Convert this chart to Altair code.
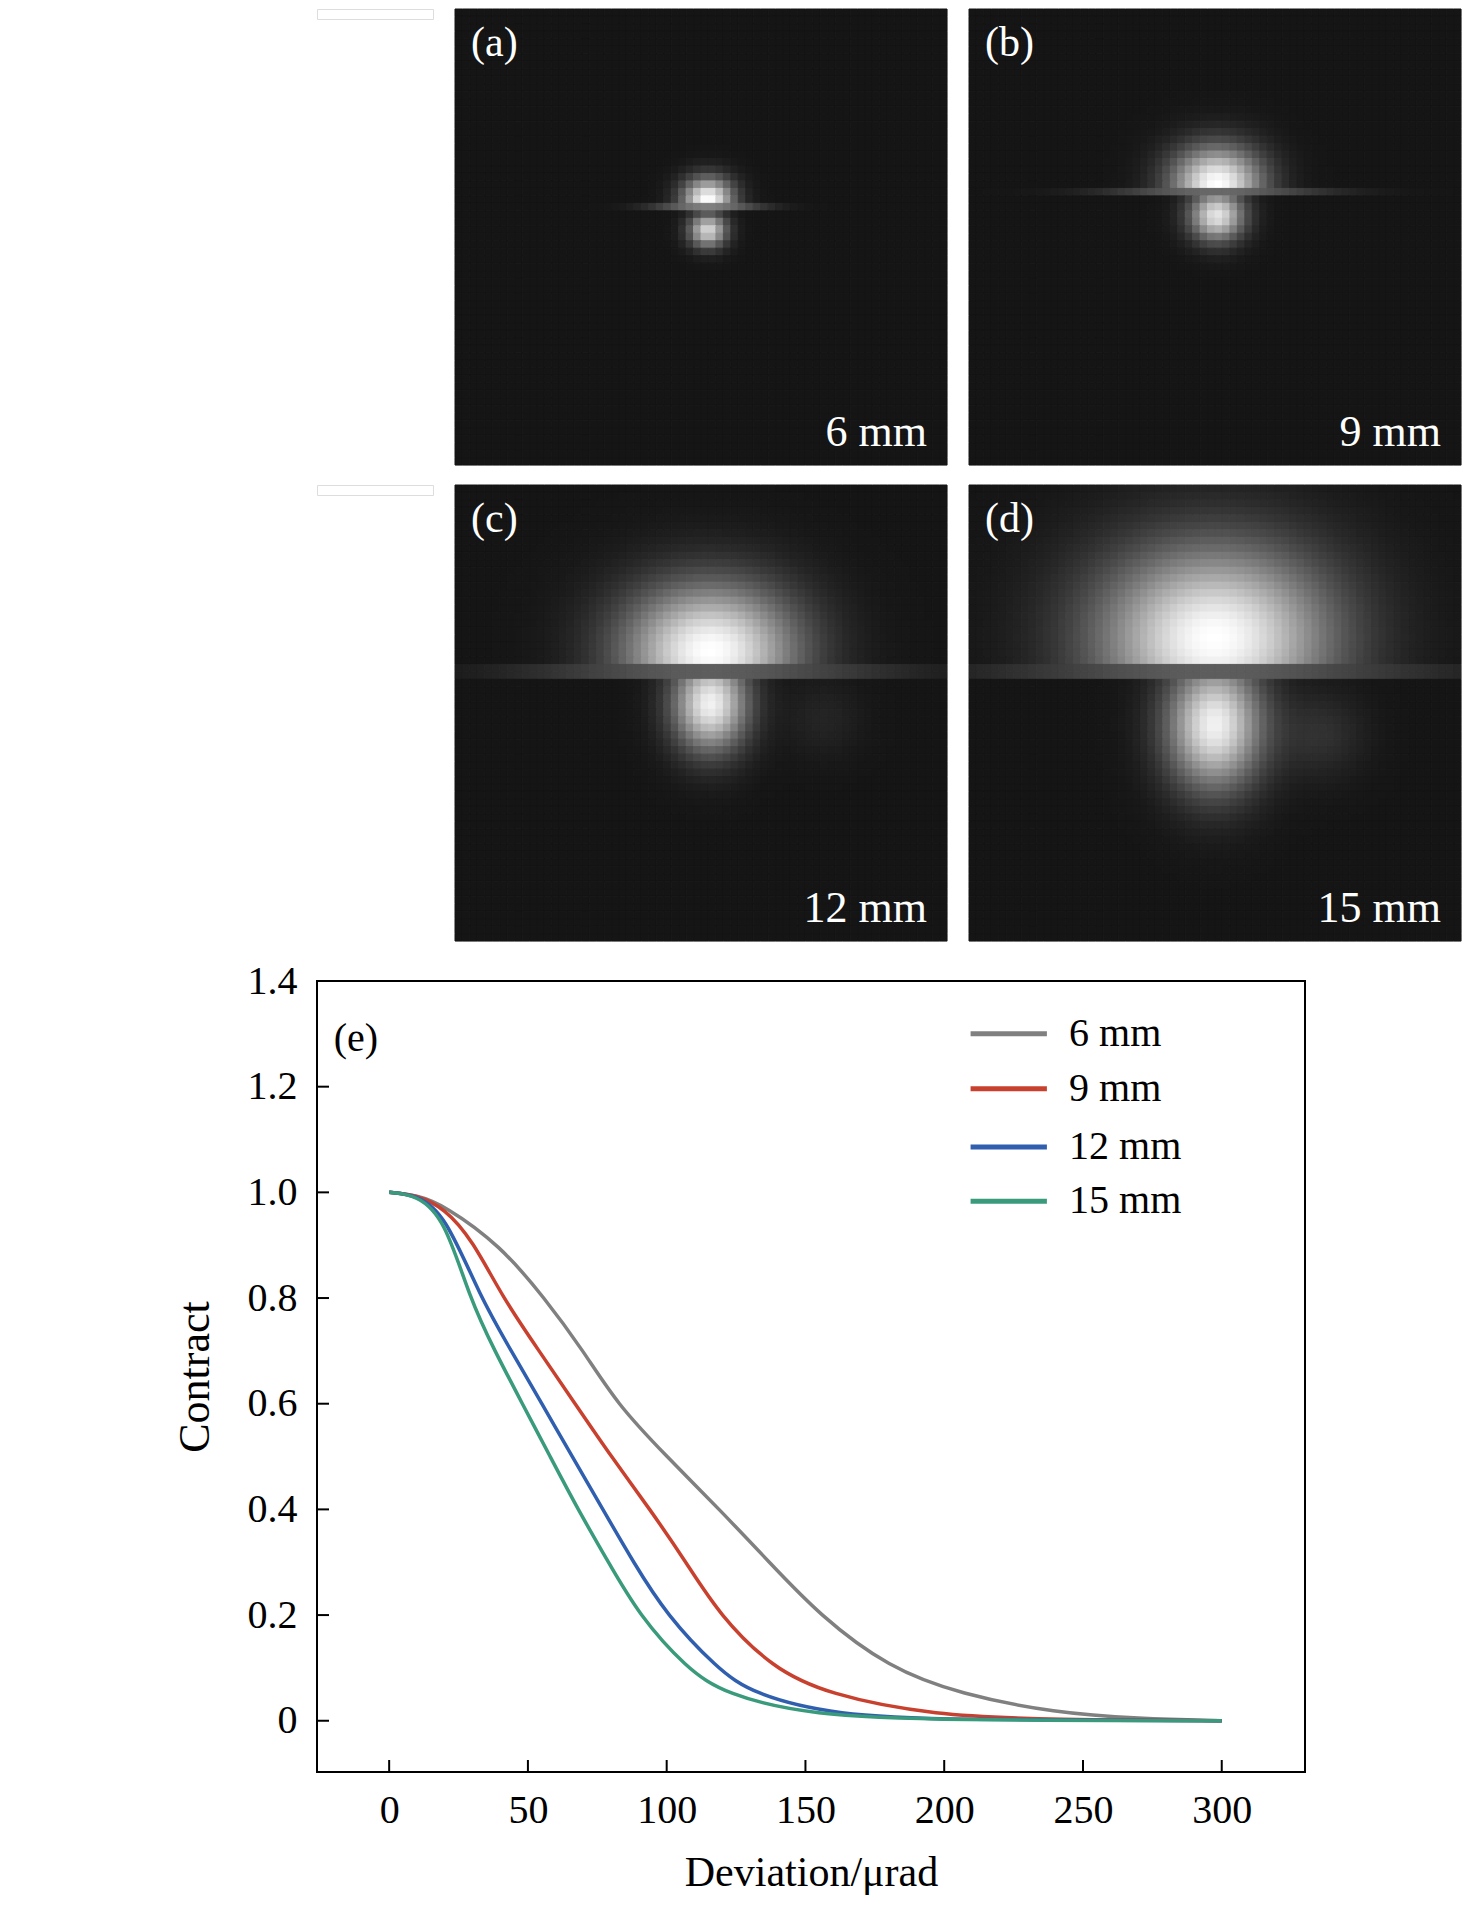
import altair as alt
import numpy as np
import pandas as pd

# ---- curve data ----
gray_x = [0, 10, 20, 40, 56, 70, 82, 100, 119, 137, 155, 180, 206, 240, 270, 300]
gray_y = [1.0, 0.995, 0.975, 0.90, 0.80, 0.70, 0.60, 0.50, 0.40, 0.30, 0.20, 0.10, 0.05, 0.015, 0.004, 0.0]
red_x = [0, 10, 20, 30, 41, 54, 67, 80, 94, 107, 119, 138, 158, 196, 240, 300]
red_y = [1.0, 0.995, 0.97, 0.91, 0.80, 0.70, 0.60, 0.50, 0.40, 0.30, 0.20, 0.10, 0.05, 0.01, 0.002, 0.0]
blue_x = [0, 10, 20, 33, 44, 55, 66, 77, 88, 100, 118, 131, 162, 200, 300]
blue_y = [1.0, 0.995, 0.96, 0.80, 0.70, 0.60, 0.50, 0.40, 0.30, 0.20, 0.10, 0.05, 0.01, 0.002, 0.0]
green_x = [0, 10, 20, 29, 38, 48, 58, 68, 79, 90, 107, 121, 152, 200, 300]
green_y = [1.0, 0.995, 0.95, 0.80, 0.70, 0.60, 0.50, 0.40, 0.30, 0.20, 0.10, 0.05, 0.01, 0.001, 0.0]
series = ["6 mm", "9 mm", "12 mm", "15 mm"]
colors = ["#808080", "#c8412f", "#2f5fae", "#3a9a7c"]
x_ticks = [0, 50, 100, 150, 200, 250, 300]
y_ticks = [0, 0.2, 0.4, 0.6, 0.8, 1.0, 1.2, 1.4]
panel_labels = ["(a)", "(b)", "(c)", "(d)"]
panel_sizes = ["6 mm", "9 mm", "12 mm", "15 mm"]

FONT = "Liberation Serif"

rows = []
for name, xs, ys in zip(series, [gray_x, red_x, blue_x, green_x], [gray_y, red_y, blue_y, green_y]):
    for a, b in zip(xs, ys):
        rows.append({"s": name, "x": a, "y": b})
df = pd.DataFrame(rows)

xs_ = alt.Scale(domain=[-26, 330], nice=False, zero=False)
ys_ = alt.Scale(domain=[-0.097, 1.4], nice=False, zero=False)
cscale = alt.Scale(domain=series, range=colors)

lines = alt.Chart(df).mark_line(strokeWidth=3.5, interpolate="basis").encode(
    x=alt.X("x:Q", scale=xs_, axis=alt.Axis(values=x_ticks, ticks=False, grid=False, domain=False,
            labelFont=FONT, labelFontSize=40, labelColor="black", labelPadding=18,
            title="Deviation/μrad", titleFont=FONT, titleFontSize=42, titleFontWeight="normal",
            titleColor="black", titlePadding=22)),
    y=alt.Y("y:Q", scale=ys_, axis=alt.Axis(values=y_ticks, ticks=False, grid=False, domain=False,
            labelExpr="datum.value == 0 ? '0' : format(datum.value, '.1f')",
            labelFont=FONT, labelFontSize=40, labelColor="black", labelPadding=20,
            title="Contract", titleFont=FONT, titleFontSize=44, titleFontWeight="normal",
            titleColor="black", titlePadding=30)),
    color=alt.Color("s:N", scale=cscale, legend=None),
)

xt = pd.DataFrame({"x": x_ticks})
xtick = alt.Chart(xt).mark_rule(color="black", strokeWidth=2).encode(
    x=alt.X("x:Q", scale=xs_), y=alt.value(791), y2=alt.value(779))
yt = pd.DataFrame({"y": y_ticks})
ytick = alt.Chart(yt).mark_rule(color="black", strokeWidth=2).encode(
    y=alt.Y("y:Q", scale=ys_), x=alt.value(0), x2=alt.value(12))

leg = pd.DataFrame({"s": series, "y": [1.30, 1.196, 1.086, 0.983], "x0": [209.5] * 4, "x1": [237] * 4, "tx": [245] * 4})
leg_lines = alt.Chart(leg).mark_rule(strokeWidth=5).encode(
    x=alt.X("x0:Q", scale=xs_), x2="x1:Q", y=alt.Y("y:Q", scale=ys_),
    color=alt.Color("s:N", scale=cscale, legend=None))
leg_text = alt.Chart(leg).mark_text(align="left", baseline="middle", font=FONT, fontSize=40, color="black").encode(
    x=alt.X("tx:Q", scale=xs_), y=alt.Y("y:Q", scale=ys_), text="s:N")
elab = alt.Chart(pd.DataFrame({"x": [-20], "y": [1.29], "t": ["(e)"]})).mark_text(
    align="left", baseline="middle", font=FONT, fontSize=40, color="black").encode(
    x=alt.X("x:Q", scale=xs_), y=alt.Y("y:Q", scale=ys_), text="t:N")

plot = alt.layer(lines, xtick, ytick, leg_lines, leg_text, elab).properties(
    width=988, height=791, view=alt.ViewBackground(stroke="black", strokeWidth=2))

# ---- image panels ----
params = [
    dict(cx=206, cu=155, sux=15, suy=13, sy=160, sh=6, bw=30, gl=0.5, cl=180, slx=11, sly=10, al=0.85, side=None),
    dict(cx=202, cu=142, sux=27, suy=22, sy=150, sh=9, bw=60, gl=0.4, cl=168, slx=16, sly=15, al=0.9, side=None),
    dict(cx=208, cu=135, sux=52, suy=40, sy=150, sh=12, bw=100, gl=0.35, cl=178, slx=22, sly=28, al=0.95, side=(300, 190, 0.08, 22)),
    dict(cx=200, cu=125, sux=70, suy=55, sy=150, sh=14, bw=120, gl=0.35, cl=195, slx=28, sly=38, al=0.95, side=(287, 203, 0.14, 25)),
]
NX, NY = 66, 61
W0, H0 = 400.0, 370.0
CS = alt.Scale(domain=[0, 1], range=["#151515", "#ffffff"])


def panel(i):
    p = params[i]
    xe = np.linspace(0, W0, NX + 1)
    ye = np.linspace(0, H0, NY + 1)
    xc = (xe[:-1] + xe[1:]) / 2
    yc = (ye[:-1] + ye[1:]) / 2
    X, Y = np.meshgrid(xc, yc)
    up = np.exp(-((X - p["cx"]) ** 2 / (2 * p["sux"] ** 2) + (Y - p["cu"]) ** 2 / (2 * p["suy"] ** 2)))
    lo = p["al"] * np.exp(-((X - p["cx"]) ** 2 / (2 * p["slx"] ** 2) + (Y - p["cl"]) ** 2 / (2 * p["sly"] ** 2)))
    band = p["gl"] * np.exp(-((X - p["cx"]) ** 2) / (2 * p["bw"] ** 2))
    top = p["sy"] - p["sh"] / 2
    bot = p["sy"] + p["sh"] / 2
    I = np.where(Y < top, up, np.where(Y > bot, lo, band))
    if p["side"]:
        sx, sy2, a, s = p["side"]
        I = I + np.where(Y > bot, a * np.exp(-((X - sx) ** 2 + (Y - sy2) ** 2) / (2 * s ** 2)), 0)
    I = np.clip(I, 0, 1)
    X0, Y0 = np.meshgrid(xe[:-1], ye[:-1])
    X1, Y1 = np.meshgrid(xe[1:], ye[1:])
    d = pd.DataFrame({"x0": X0.ravel(), "x1": X1.ravel(), "y0": Y0.ravel(), "y1": Y1.ravel(), "v": I.ravel()})
    sx_ = alt.Scale(domain=[0, W0], nice=False, zero=False)
    sy_ = alt.Scale(domain=[0, H0], nice=False, zero=False, reverse=True)
    rect = alt.Chart(d).mark_rect(strokeWidth=1).encode(
        x=alt.X("x0:Q", scale=sx_, axis=None), x2="x1:Q",
        y=alt.Y("y0:Q", scale=sy_, axis=None), y2="y1:Q",
        color=alt.Color("v:Q", scale=CS, legend=None),
        stroke=alt.Stroke("v:Q", scale=CS, legend=None))
    t1 = alt.Chart(pd.DataFrame({"t": [panel_labels[i]]})).mark_text(
        align="left", baseline="top", font=FONT, fontSize=42, color="white").encode(
        x=alt.value(16), y=alt.value(14), text="t:N")
    t2 = alt.Chart(pd.DataFrame({"t": [panel_sizes[i]]})).mark_text(
        align="right", baseline="bottom", font=FONT, fontSize=44, color="white").encode(
        x=alt.value(472), y=alt.value(446), text="t:N")
    return alt.layer(rect, t1, t2).properties(width=492, height=456)


def spacer(w):
    return alt.Chart(pd.DataFrame({"a": [0]})).mark_point(opacity=0).encode(
        x=alt.X("a:Q", axis=None), y=alt.Y("a:Q", axis=None)).properties(width=w, height=10)


SP = 136
row1 = alt.hconcat(spacer(SP - 20), panel(0), panel(1), spacing=20)
row2 = alt.hconcat(spacer(SP - 20), panel(2), panel(3), spacing=20)
chart = alt.vconcat(row1, row2, plot, spacing=18).properties(
    padding={"left": 164, "top": 0, "right": 5, "bottom": 5}
).configure_view(stroke=None).configure(background="white").configure_concat(spacing=18)

chart.save("out.html", embed_options={"renderer": "svg", "actions": False})
